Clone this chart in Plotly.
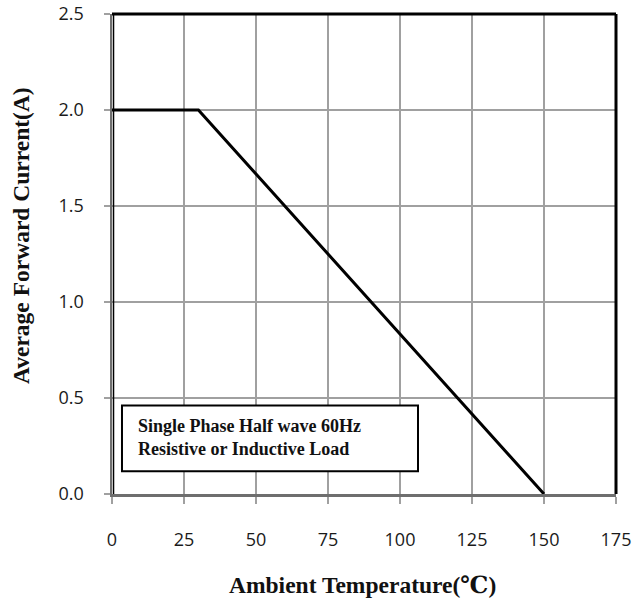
import plotly.graph_objects as go

# Data
temps = [0, 30, 150]
currents = [2.0, 2.0, 0.0]
x_ticks = [0, 25, 50, 75, 100, 125, 150, 175]
y_ticks = [0.0, 0.5, 1.0, 1.5, 2.0, 2.5]
y_tick_labels = ["0.0", "0.5", "1.0", "1.5", "2.0", "2.5"]
x_title = "Ambient Temperature(℃)"
y_title = "Average Forward Current(A)"
note_lines = ["Single Phase Half wave 60Hz", "Resistive or Inductive Load"]

W, H = 632, 603
L, R, T, B = 111.7, 16.3, 14.3, 108.7

fig = go.Figure()
fig.add_trace(go.Scatter(
    x=temps, y=currents, mode="lines",
    line=dict(color="black", width=3), showlegend=False, hoverinfo="skip"))

tick_font = dict(family="Open Sans, Noto Sans, sans-serif", size=18, color="#1a1a1a")
serif_bold = "Liberation Serif, DejaVu Serif, Times New Roman, serif"

fig.update_layout(
    template="none",
    width=W, height=H,
    margin=dict(l=L, r=R, t=T, b=B, pad=0, autoexpand=False),
    paper_bgcolor="white", plot_bgcolor="white",
    xaxis=dict(
        range=[0, 175], tickvals=x_ticks, ticktext=[str(v) for v in x_ticks],
        showgrid=True, gridcolor="#a0a0a0", gridwidth=1.5,
        zeroline=False, showline=True, linecolor="#6e6e6e", linewidth=2.5,
        ticks="outside", ticklen=7, tickcolor="#a0a0a0", tickwidth=1.5,
        tickfont=tick_font, ticklabelstandoff=21, fixedrange=True, automargin=False,
    ),
    yaxis=dict(
        range=[0, 2.5], tickvals=y_ticks, ticktext=y_tick_labels,
        showgrid=True, gridcolor="#a0a0a0", gridwidth=1.5,
        zeroline=False, showline=True, linecolor="#6e6e6e", linewidth=2.5,
        ticks="outside", ticklen=6, tickcolor="#a0a0a0", tickwidth=1.5,
        tickfont=tick_font, ticklabelstandoff=16, fixedrange=True, automargin=False,
    ),
    shapes=[
        # top and right frame
        dict(type="line", xref="paper", yref="paper", x0=0, x1=1, y0=1, y1=1,
             line=dict(color="black", width=3)),
        dict(type="line", xref="paper", yref="paper", x0=1, x1=1, y0=0, y1=1,
             line=dict(color="black", width=3)),
        dict(type="line", xref="paper", yref="paper", x0=0.003, x1=0.003, y0=0, y1=1,
             line=dict(color="black", width=1.5)),
        # note box
        dict(type="rect", xref="x", yref="y", x0=3.47, x1=106.25, y0=0.118, y1=0.4615,
             line=dict(color="black", width=2), fillcolor="white", layer="above"),
    ],
    annotations=[
        dict(text="<b>" + note_lines[0] + "<br>" + note_lines[1] + "</b>",
             xref="x", yref="y", x=8.2, y=0.295, xanchor="left", yanchor="middle",
             align="left", showarrow=False,
             font=dict(family=serif_bold, size=18, color="#111111")),
        dict(text="<b>" + x_title + "</b>", xref="paper", yref="paper",
             x=0.497, y=-(585 - (H - B)) / (H - T - B), xanchor="center", yanchor="middle",
             showarrow=False, font=dict(family=serif_bold, size=23.5, color="#111111")),
        dict(text="<b>" + y_title + "</b>", xref="paper", yref="paper",
             x=-(L - 20) / (W - L - R), y=(H - B - 236) / (H - T - B),
             xanchor="center", yanchor="middle", textangle=-90,
             showarrow=False, font=dict(family=serif_bold, size=23.5, color="#111111")),
    ],
)

fig.write_html(
    "out.html",
    config={"displayModeBar": False, "staticPlot": True},
    post_script="document.body.style.margin='0';document.body.style.overflow='hidden';",
)
